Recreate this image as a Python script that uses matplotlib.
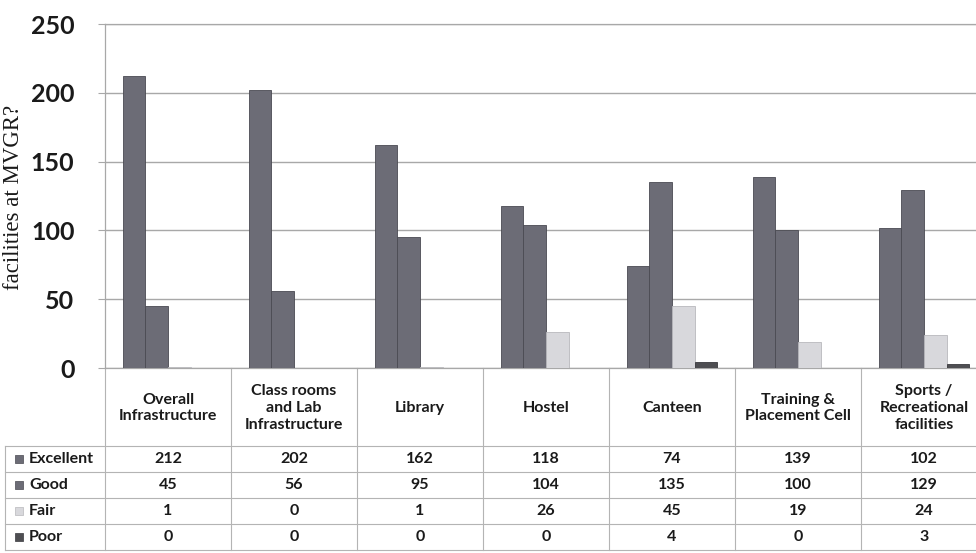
import matplotlib
matplotlib.use("Agg")
import matplotlib.pyplot as plt
from matplotlib import transforms
import numpy as np

categories = ["Overall\nInfrastructure", "Class rooms\nand Lab\nInfrastructure", "Library",
              "Hostel", "Canteen", "Training &\nPlacement Cell",
              "Sports /\nRecreational\nfacilities"]
series = ["Excellent", "Good", "Fair", "Poor"]
excellent = [212, 202, 162, 118, 74, 139, 102]
good = [45, 56, 95, 104, 135, 100, 129]
fair = [1, 0, 1, 26, 45, 19, 24]
poor = [0, 0, 0, 0, 4, 0, 3]
yticks = [0, 50, 100, 150, 200, 250]

values = [excellent, good, fair, poor]
colors = ["#6c6c76", "#6c6c76", "#d8d8dc", "#4e4e52"]
edges = ["#4a4a52", "#4a4a52", "#b8b8bc", "#3a3a3e"]

W, H = 976, 553
fig = plt.figure(figsize=(W / 100, H / 100), dpi=100)
ax = fig.add_axes([105 / W, (H - 368) / H, 882 / W, 344 / H])

x = np.arange(len(categories))
bw = 0.18
for i, (name, vals) in enumerate(zip(series, values)):
    ax.bar(x + (i - 1.5) * bw, vals, bw, color=colors[i], edgecolor=edges[i],
           linewidth=0.6, zorder=3, label=name)

ax.set_xlim(-0.5, len(categories) - 0.5)
ax.set_ylim(0, 250)
ax.set_yticks(yticks)
ax.set_xticks([])
ax.grid(axis="y", color="#a8a8a8", linewidth=1.0, zorder=0)
ax.spines["right"].set_visible(False)
for side in ["left", "top", "bottom"]:
    ax.spines[side].set_color("#a8a8a8")
    ax.spines[side].set_linewidth(0.9)
ax.tick_params(axis="y", length=5, color="#a8a8a8", pad=17)
for lab in ax.get_yticklabels():
    lab.set_fontfamily("Lato")
    lab.set_fontweight("bold")
    lab.set_fontsize(18)
    lab.set_color("#1a1a1a")

fig.text(14 / W, 1 - 197 / H, "facilities at MVGR?", rotation=90, ha="center",
         va="center", fontsize=16.5, family="Liberation Serif", color="#1a1a1a")

# data table under the plot: x in data units, y in figure fraction
tr = transforms.blended_transform_factory(ax.transData, fig.transFigure)
def fy(px):
    return 1 - px / H

line_kw = dict(color="#b4b4b4", linewidth=0.8, transform=tr, clip_on=False)
hdr_top, hdr_bot = 368, 446
row_edges = [446, 472, 498, 524, 550]
lab_left = -0.5 - 100 / 126

for b in np.arange(-0.5, len(categories) + 0.5, 1.0):
    ax.plot([b, b], [fy(hdr_top), fy(550)], **line_kw)
ax.plot([lab_left, lab_left], [fy(446), fy(550)], **line_kw)
for ry in row_edges:
    ax.plot([lab_left, len(categories) - 0.5], [fy(ry), fy(ry)], **line_kw)

tfont = dict(family="Lato", fontweight="bold", color="#1a1a1a")
for j, cat in enumerate(categories):
    ax.text(j, fy((hdr_top + hdr_bot) / 2 + 1), cat, ha="center", va="center",
            fontsize=11.5, linespacing=1.25, transform=tr, **tfont)
    for i, vals in enumerate(values):
        yc = fy((row_edges[i] + row_edges[i + 1]) / 2)
        ax.text(j, yc, str(vals[j]), ha="center", va="center", fontsize=11.5,
                transform=tr, **tfont)

for i, name in enumerate(series):
    yc = fy((row_edges[i] + row_edges[i + 1]) / 2)
    ax.scatter([lab_left + 14 / 126], [yc], marker="s", s=40, color=colors[i],
               edgecolor=edges[i], linewidth=0.5, transform=tr, clip_on=False)
    ax.text(lab_left + 24 / 126, yc, name, ha="left", va="center", fontsize=11.5,
            transform=tr, **tfont)

fig.savefig("out.png", dpi=100)
